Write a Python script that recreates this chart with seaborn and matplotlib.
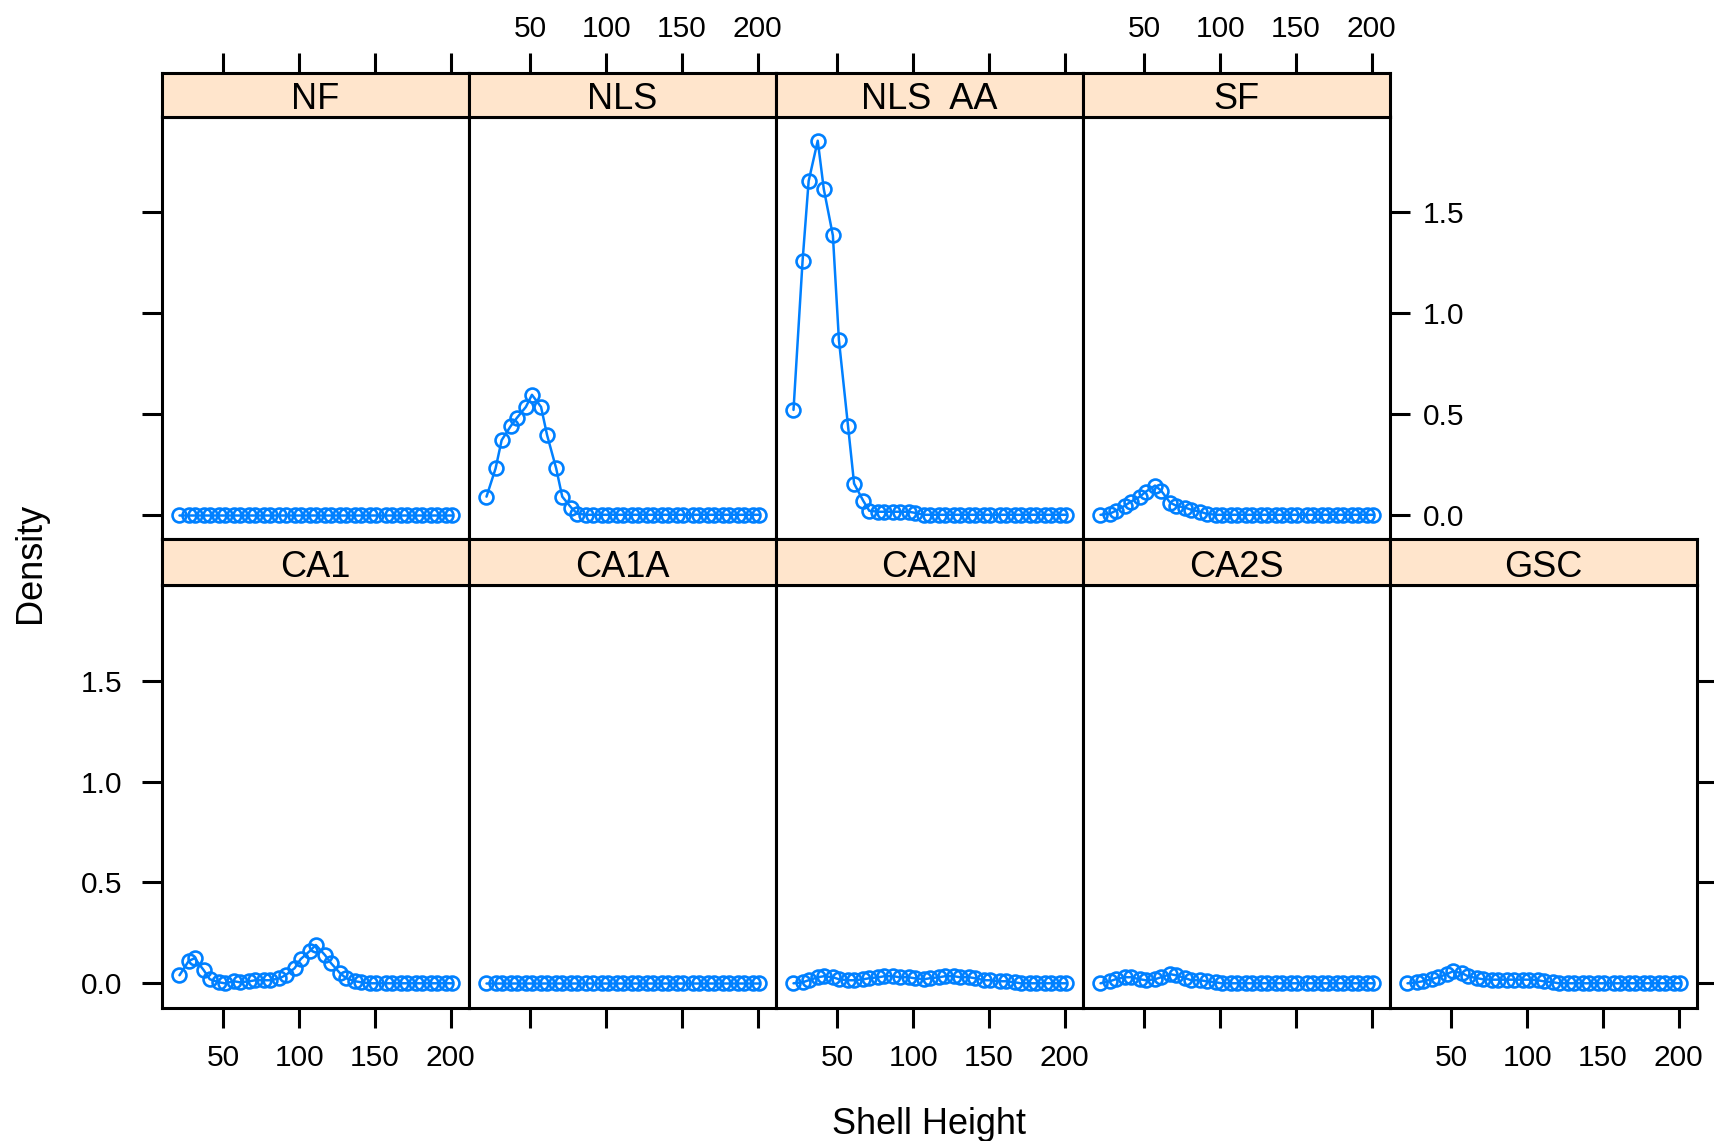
import pandas as pd
import matplotlib
matplotlib.use("Agg")
import matplotlib.pyplot as plt
import seaborn as sns

# shell height grid (x) and density per site
shell_height = [21, 27, 31, 37, 41, 47, 51, 57, 61, 67,
                71, 77, 81, 87, 91, 97, 101, 107, 111, 117,
                121, 127, 131, 137, 141, 147, 151, 157, 161, 167,
                171, 177, 181, 187, 191, 197, 201]

dens_nf = [0, 0, 0, 0, 0, 0, 0, 0, 0, 0,
           0, 0, 0, 0, 0, 0, 0, 0, 0, 0,
           0, 0, 0, 0, 0, 0, 0, 0, 0, 0,
           0, 0, 0, 0, 0, 0, 0]
dens_nls = [0.09, 0.23, 0.37, 0.44, 0.48, 0.535, 0.595, 0.535, 0.395, 0.23,
            0.09, 0.035, 0.005, 0, 0, 0, 0, 0, 0, 0,
            0, 0, 0, 0, 0, 0, 0, 0, 0, 0,
            0, 0, 0, 0, 0, 0, 0]
dens_nls_aa = [0.52, 1.26, 1.655, 1.855, 1.615, 1.385, 0.865, 0.44, 0.155, 0.07,
               0.02, 0.015, 0.015, 0.015, 0.015, 0.015, 0.01, 0, 0, 0,
               0, 0, 0, 0, 0, 0, 0, 0, 0, 0,
               0, 0, 0, 0, 0, 0, 0]
dens_sf = [0.0, 0.005, 0.02, 0.045, 0.065, 0.09, 0.115, 0.145, 0.12, 0.06,
           0.045, 0.035, 0.025, 0.015, 0.005, 0, 0, 0, 0, 0,
           0, 0, 0, 0, 0, 0, 0, 0, 0, 0,
           0, 0, 0, 0, 0, 0, 0]
dens_ca1 = [0.04, 0.11, 0.125, 0.065, 0.02, 0.005, 0.0, 0.01, 0.005, 0.01,
            0.015, 0.015, 0.015, 0.025, 0.04, 0.075, 0.12, 0.16, 0.19, 0.14,
            0.1, 0.05, 0.025, 0.01, 0.005, 0, 0, 0, 0, 0,
            0, 0, 0, 0, 0, 0, 0]
dens_ca1a = [0, 0, 0, 0, 0, 0, 0, 0, 0, 0,
             0, 0, 0, 0, 0, 0, 0, 0, 0, 0,
             0, 0, 0, 0, 0, 0, 0, 0, 0, 0,
             0, 0, 0, 0, 0, 0, 0]
dens_ca2n = [0.0, 0.005, 0.015, 0.03, 0.035, 0.03, 0.02, 0.015, 0.015, 0.02,
             0.025, 0.03, 0.035, 0.035, 0.03, 0.03, 0.025, 0.02, 0.025, 0.03,
             0.035, 0.035, 0.03, 0.03, 0.025, 0.015, 0.015, 0.01, 0.01, 0.005,
             0, 0, 0, 0, 0, 0, 0]
dens_ca2s = [0.0, 0.01, 0.02, 0.03, 0.03, 0.02, 0.015, 0.02, 0.03, 0.045,
             0.04, 0.025, 0.015, 0.015, 0.01, 0.005, 0, 0, 0, 0,
             0, 0, 0, 0, 0, 0, 0, 0, 0, 0,
             0, 0, 0, 0, 0, 0, 0]
dens_gsc = [0.0, 0.005, 0.01, 0.02, 0.03, 0.045, 0.06, 0.05, 0.035, 0.025,
            0.02, 0.018, 0.018, 0.018, 0.018, 0.018, 0.018, 0.015, 0.01, 0.005,
            0, 0, 0, 0, 0, 0, 0, 0, 0, 0,
            0, 0, 0, 0, 0, 0, 0]

sites = ["NF", "NLS", "NLS  AA", "SF", "CA1", "CA1A", "CA2N", "CA2S", "GSC"]
densities = [dens_nf, dens_nls, dens_nls_aa, dens_sf, dens_ca1,
             dens_ca1a, dens_ca2n, dens_ca2s, dens_gsc]
panel_row = [0, 0, 0, 0, 1, 1, 1, 1, 1]
panel_col = [0, 1, 2, 3, 0, 1, 2, 3, 4]

x_ticks = [50, 100, 150, 200]
y_ticks = [0.0, 0.5, 1.0, 1.5]

frames = []
for site, dens, r, c in zip(sites, densities, panel_row, panel_col):
    frames.append(pd.DataFrame({"site": site, "prow": r, "pcol": c,
                                "height": shell_height, "density": dens}))
df = pd.concat(frames, ignore_index=True)

sns.set_theme(style="white")
plt.rcParams["font.family"] = ["Liberation Sans", "DejaVu Sans"]
plt.rcParams["text.color"] = "black"

blue = "#0080ff"
strip_col = "#ffe5cc"
lw = 2.2

g = sns.FacetGrid(df, row="prow", col="pcol", row_order=[0, 1],
                  col_order=[0, 1, 2, 3, 4], sharex=False, sharey=False,
                  despine=False, height=5.705, aspect=0.6012)
g.map_dataframe(sns.lineplot, x="height", y="density", color=blue,
                linewidth=1.8, marker="o", markersize=10,
                markerfacecolor="none", markeredgecolor=blue,
                markeredgewidth=1.9)
g.set_titles("")
fig = g.figure
fig.set_size_inches(17.15, 11.41)
fig.set_dpi(100)

W, H = 1715.0, 1141.0
col_left = [162, 469, 776, 1083, 1390]
pw = 307
rows_px = {0: (116.5, 539.0, 72.5), 1: (585.0, 1007.5, 539.0)}  # panel top, panel bottom, strip top

xlim = (9.45, 212.1)
ylim = (-0.12, 1.975)

tick_kw = dict(direction="out", length=14.4, width=lw, colors="black",
               labelsize=21.5, labelcolor="black")

for r in [0, 1]:
    for c in range(5):
        ax = g.axes[r, c]
        if r == 0 and c == 4:
            ax.set_visible(False)
            continue
        top, bot, stop = rows_px[r]
        ax.set_position([col_left[c] / W, 1 - bot / H, pw / W, (bot - top) / H])
        ax.set_xlim(xlim)
        ax.set_ylim(ylim)
        ax.set_xticks(x_ticks)
        ax.set_xticklabels([str(v) for v in x_ticks])
        ax.set_yticks(y_ticks)
        ax.set_yticklabels(["%.1f" % v for v in y_ticks])
        ax.set_xlabel("")
        ax.set_ylabel("")
        ax.grid(False)
        for sp in ax.spines.values():
            sp.set_color("black")
            sp.set_linewidth(lw)
        ax.tick_params(**tick_kw)
        if r == 0:
            ax.tick_params(axis="x", bottom=False, top=False,
                           labelbottom=False, labeltop=False)
            ax.tick_params(axis="y", left=(c == 0), labelleft=False,
                           right=(c == 3), labelright=(c == 3), pad=9)
        else:
            ax.tick_params(axis="x", bottom=True, top=False,
                           labelbottom=(c in (0, 2, 4)), labeltop=False, pad=12)
            ax.tick_params(axis="y", left=(c == 0), labelleft=(c == 0),
                           right=(c == 4), labelright=False, pad=14)

        # lattice style strip above the panel
        site = [s for s, rr, cc in zip(sites, panel_row, panel_col) if rr == r and cc == c][0]
        sax = fig.add_axes([col_left[c] / W, 1 - top / H, pw / W, (top - stop) / H])
        sax.set_facecolor(strip_col)
        sax.set_xlim(xlim)
        sax.set_ylim(0, 1)
        sax.set_yticks([])
        for sp in sax.spines.values():
            sp.set_color("black")
            sp.set_linewidth(lw)
        sax.text(0.5, 0.38, site, ha="center", va="center", fontsize=26,
                 color="black", transform=sax.transAxes)
        if r == 0:
            sax.set_xticks(x_ticks)
            sax.set_xticklabels([str(v) for v in x_ticks])
            sax.tick_params(**tick_kw)
            sax.tick_params(axis="x", bottom=False, labelbottom=False,
                            top=True, labeltop=(c in (1, 3)), pad=7)
        else:
            sax.set_xticks([])

fig.text(31 / W, 1 - 563 / H, "Density", rotation=90, ha="center",
         va="center", fontsize=26, color="black")
fig.text(929.5 / W, 1 - 1134 / H, "Shell Height", ha="center",
         va="baseline", fontsize=26, color="black")

fig.savefig("out.png", dpi=100)
